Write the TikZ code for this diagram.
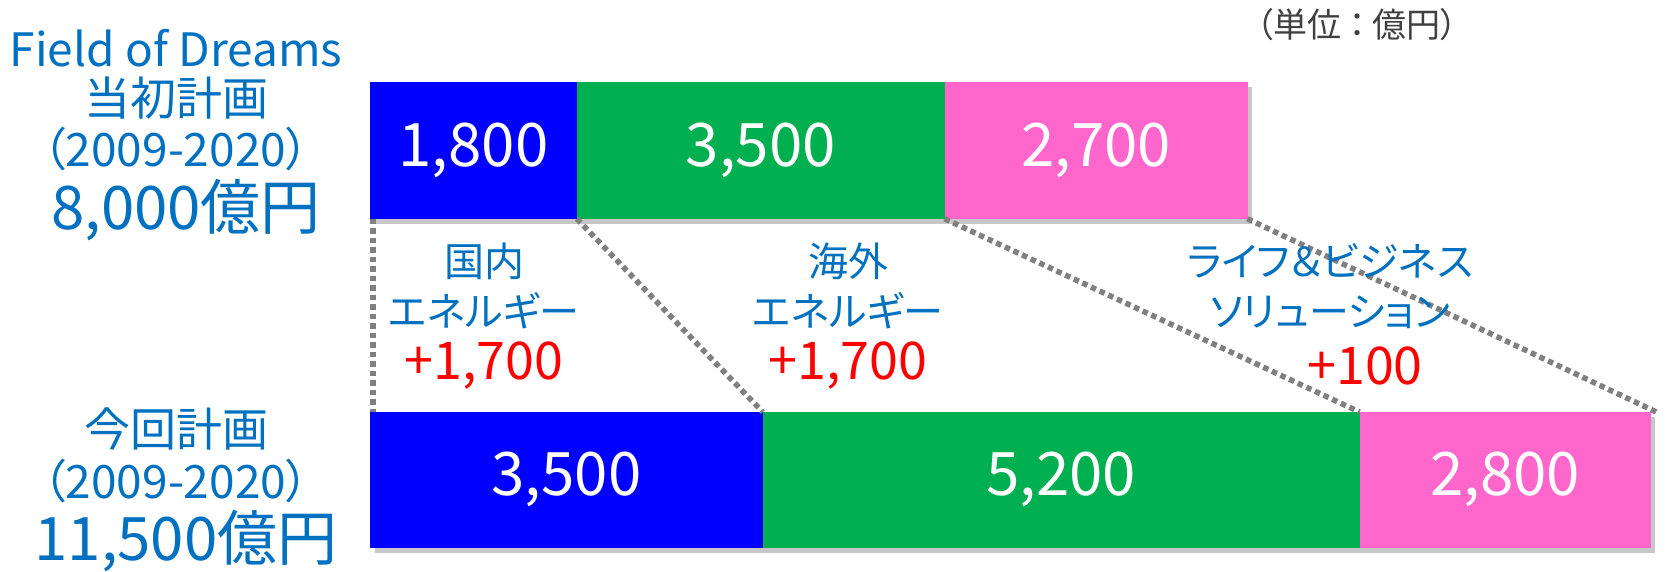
\documentclass[tikz,border=0pt]{standalone}
\usepackage{fontspec}
\setmainfont{Noto Sans CJK JP}[RawFeature=+palt]
\usepackage{tikz}
\usetikzlibrary{
  positioning,
  backgrounds
}
\definecolor{barBlue}{HTML}{0000FF}
\definecolor{barGreen}{HTML}{00B050}
\definecolor{barPink}{HTML}{FF66CC}
\definecolor{labelBlue}{HTML}{0070C0}
\definecolor{unitGray}{HTML}{404040}
\definecolor{dotGray}{HTML}{808080}

\tikzset{
  seg/.style={rectangle, inner sep=0pt, text=white, line width=0.8pt,
    font=\fontsize{60}{60}\selectfont},
  oldseg/.style={seg, minimum height=136pt},
  newseg/.style={seg, minimum height=135pt},
  planlabel/.style={text=labelBlue, inner sep=0pt},
  kindlabel/.style={text=labelBlue, inner sep=0pt, align=center,
    font=\fontsize{40}{50}\selectfont},
  gainlabel/.style={text=red, inner sep=0pt, font=\fontsize{52}{52}\selectfont},
  link/.style={dotGray, line width=5.5pt, dash pattern=on 5.5pt off 4pt},
  barshadow/.style={fill=black, opacity=0.22}
}

\begin{document}
\begin{tikzpicture}[x=1pt, y=-1pt]
  \useasboundingbox (0,0) rectangle (1669,571);

  % 単位
  \node[text=unitGray, font=\fontsize{34}{34}\selectfont] (unit) at (1357,25) {（単位\hspace{7pt}：\hspace{7pt}億円）};

  % 当初計画
  \node[planlabel, font=\fontsize{46}{46}\selectfont] (fod) at (176,48) {Field of Dreams};
  \node[planlabel, font=\fontsize{46}{46}\selectfont] (oldplan) at (176,98) {当初計画};
  \node[planlabel, font=\fontsize{46}{46}\selectfont] (oldterm) at (176,149) {（2009-2020）};
  \node[planlabel, font=\fontsize{60}{60}\selectfont] (oldsum) at (186,210) {8,000億円};

  % 今回計画
  \node[planlabel, font=\fontsize{46}{46}\selectfont] (newplan) at (176,429) {今回計画};
  \node[planlabel, font=\fontsize{46}{46}\selectfont] (newterm) at (176,481) {（2009-2020）};
  \node[planlabel, font=\fontsize{60}{60}\selectfont] (newsum) at (186,541) {11,500億円};

  % 当初計画の帯
  \node[oldseg, fill=barBlue, draw=barBlue, minimum width=206pt, anchor=north west] (old1) at (370,82) {1,800};
  \node[oldseg, fill=barGreen, draw=barGreen, minimum width=367pt, right=0pt of old1] (old2) {3,500};
  \node[oldseg, fill=barPink, draw=barPink, minimum width=302pt, right=0pt of old2] (old3) {2,700};

  % 今回計画の帯
  \node[newseg, fill=barBlue, draw=barBlue, minimum width=392pt, anchor=north west] (new1) at (370,412) {3,500};
  \node[newseg, fill=barGreen, draw=barGreen, minimum width=596pt, right=0pt of new1] (new2) {5,200};
  \node[newseg, fill=barPink, draw=barPink, minimum width=290pt, right=0pt of new2] (new3) {2,800};

  % 帯の影
  \begin{scope}[on background layer]
    \fill[barshadow] ([shift={(5pt,-5pt)}]old1.north west) rectangle ([shift={(5pt,-5pt)}]old3.south east);
    \fill[barshadow] ([shift={(5pt,-5pt)}]new1.north west) rectangle ([shift={(5pt,-5pt)}]new3.south east);
  \end{scope}

  % 帯を結ぶ点線
  \draw[link] ([xshift=3pt]old1.south west) -- ([xshift=3pt]new1.north west);
  \draw[link] (old2.south west) -- (new2.north west);
  \draw[link] (old3.south west) -- (new3.north west);
  \draw[link] (old3.south east) -- ([xshift=6pt]new3.north east);

  % 事業ごとの増分
  \node[kindlabel] (dom) at (484,286) {国内\\エネルギー};
  \node[gainlabel] (domgain) at (484,366) {+1,700};
  \node[kindlabel] (ovs) at (848,286) {海外\\エネルギー};
  \node[gainlabel] (ovsgain) at (848,366) {+1,700};
  \node[kindlabel] (life) at (1330,286) {ライフ＆ビジネス\\ソリューション};
  \node[gainlabel] (lifegain) at (1365,366) {+100};
\end{tikzpicture}
\end{document}
